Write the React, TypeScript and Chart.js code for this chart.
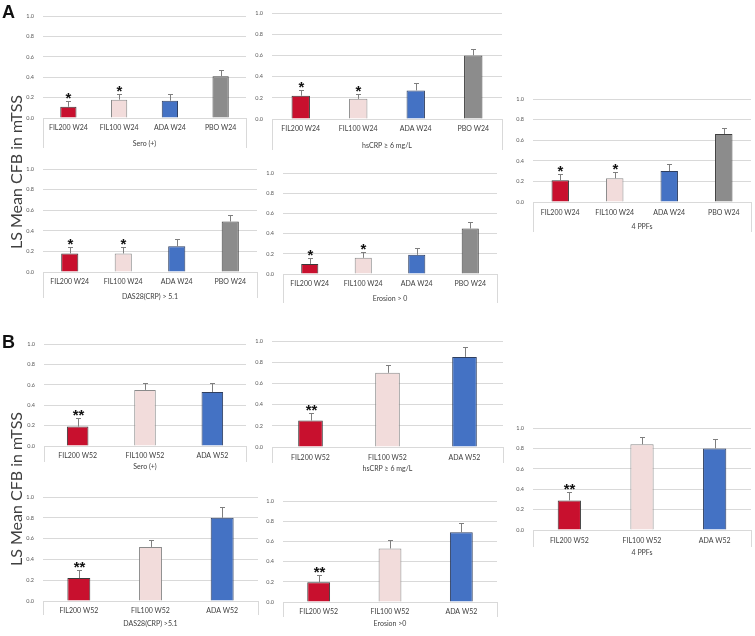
import React, { useEffect, useRef } from 'react';
import { Chart, registerables } from 'chart.js';
Chart.register(...registerables);

// ---------- DATA ----------
const groupsW24 = ['FIL200 W24', 'FIL100 W24', 'ADA W24', 'PBO W24'];
const groupsW52 = ['FIL200 W52', 'FIL100 W52', 'ADA W52'];
const yTickValues = [0, 0.2, 0.4, 0.6, 0.8, 1.0];

// Panel A (week 24): LS mean and upper error-bar end
const aSero = [0.11, 0.18, 0.17, 0.41];
const aSeroErr = [0.17, 0.24, 0.24, 0.47];
const aHsCRP = [0.22, 0.19, 0.27, 0.60];
const aHsCRPErr = [0.27, 0.24, 0.34, 0.66];
const aPPF = [0.21, 0.23, 0.30, 0.66];
const aPPFErr = [0.27, 0.29, 0.37, 0.72];
const aDAS = [0.18, 0.18, 0.25, 0.49];
const aDASErr = [0.24, 0.24, 0.32, 0.55];
const aEro = [0.10, 0.16, 0.19, 0.45];
const aEroErr = [0.16, 0.22, 0.26, 0.51];
const sigW24 = ['*', '*', '', ''];

// Panel B (week 52)
const bSero = [0.19, 0.55, 0.53];
const bSeroErr = [0.27, 0.62, 0.62];
const bHsCRP = [0.25, 0.70, 0.85];
const bHsCRPErr = [0.32, 0.77, 0.94];
const bPPF = [0.29, 0.84, 0.80];
const bPPFErr = [0.37, 0.91, 0.89];
const bDAS = [0.22, 0.52, 0.80];
const bDASErr = [0.30, 0.59, 0.90];
const bEro = [0.195, 0.53, 0.69];
const bEroErr = [0.27, 0.61, 0.78];
const sigW52 = ['**', '', ''];

const titlesA = ['Sero (+)', 'hsCRP \u2265 6 mg/L', '4 PPFs', 'DAS28(CRP) > 5.1', 'Erosion > 0'];
const titlesB = ['Sero (+)', 'hsCRP \u2265 6 mg/L', '4 PPFs', 'DAS28(CRP) >5.1', 'Erosion >0'];

// ---------- STYLE / LAYOUT ----------
const barColors = ['#C8102E', '#F2DCDB', '#4472C4', '#8C8C8C'];
const barBorders = ['#3a3a3a', '#8a8a8a', '#2f3f60', '#404040'];
const W = 755;
const H = 636;

type Box = { left: number; right: number; top: number; bottom: number; labelY: number; titleY: number; div: number };
type Panel = { labels: string[]; values: number[]; err: number[]; sig: string[]; title: string; box: Box };

const panels: Panel[] = [
  { labels: groupsW24, values: aSero, err: aSeroErr, sig: sigW24, title: titlesA[0], box: { left: 43, right: 246, top: 16, bottom: 118, labelY: 128, titleY: 144, div: 30 } },
  { labels: groupsW24, values: aHsCRP, err: aHsCRPErr, sig: sigW24, title: titlesA[1], box: { left: 272, right: 502, top: 13, bottom: 119, labelY: 129, titleY: 146, div: 31 } },
  { labels: groupsW24, values: aPPF, err: aPPFErr, sig: sigW24, title: titlesA[2], box: { left: 533, right: 751, top: 99, bottom: 202, labelY: 213, titleY: 227, div: 30 } },
  { labels: groupsW24, values: aDAS, err: aDASErr, sig: sigW24, title: titlesA[3], box: { left: 43, right: 257, top: 169, bottom: 272, labelY: 282, titleY: 297, div: 26 } },
  { labels: groupsW24, values: aEro, err: aEroErr, sig: sigW24, title: titlesA[4], box: { left: 283, right: 497, top: 173, bottom: 274, labelY: 284, titleY: 299, div: 29 } },
  { labels: groupsW52, values: bSero, err: bSeroErr, sig: sigW52, title: titlesB[0], box: { left: 44, right: 246, top: 344, bottom: 446, labelY: 456, titleY: 467, div: 16 } },
  { labels: groupsW52, values: bHsCRP, err: bHsCRPErr, sig: sigW52, title: titlesB[1], box: { left: 272, right: 503, top: 341, bottom: 447, labelY: 458, titleY: 469, div: 16 } },
  { labels: groupsW52, values: bPPF, err: bPPFErr, sig: sigW52, title: titlesB[2], box: { left: 533, right: 751, top: 428, bottom: 530, labelY: 541, titleY: 553, div: 17 } },
  { labels: groupsW52, values: bDAS, err: bDASErr, sig: sigW52, title: titlesB[3], box: { left: 43, right: 258, top: 497, bottom: 601, labelY: 611, titleY: 624, div: 14 } },
  { labels: groupsW52, values: bEro, err: bEroErr, sig: sigW52, title: titlesB[4], box: { left: 283, right: 497, top: 501, bottom: 602, labelY: 612, titleY: 624, div: 15 } },
];

const overlayPlugin = {
  id: 'overlay',
  afterDatasetsDraw(chart: any, _args: any, opts: any) {
    const ctx = chart.ctx;
    const xs = chart.scales.x;
    const ys = chart.scales.y;
    const ca = chart.chartArea;
    const values: number[] = chart.data.datasets[0].data;
    ctx.save();
    // category group dividers
    ctx.strokeStyle = '#D9D9D9';
    ctx.lineWidth = 1;
    [ca.left, ca.right].forEach((px: number) => {
      const xx = Math.round(px) + 0.5;
      ctx.beginPath();
      ctx.moveTo(xx, ca.bottom);
      ctx.lineTo(xx, ca.bottom + opts.div);
      ctx.stroke();
    });
    // error bars
    ctx.strokeStyle = '#7f7f7f';
    values.forEach((v: number, i: number) => {
      const cx = Math.round(xs.getPixelForValue(i)) + 0.5;
      const y0 = ys.getPixelForValue(v);
      const y1 = Math.round(ys.getPixelForValue(opts.err[i])) + 0.5;
      ctx.beginPath();
      ctx.moveTo(cx, y0);
      ctx.lineTo(cx, y1);
      ctx.moveTo(cx - 2.5, y1);
      ctx.lineTo(cx + 2.5, y1);
      ctx.stroke();
      const s = opts.sig[i];
      if (s) {
        ctx.fillStyle = '#111';
        ctx.font = 'bold 15px "Liberation Sans", Arial, sans-serif';
        ctx.textAlign = 'center';
        ctx.textBaseline = 'alphabetic';
        ctx.fillText(s, cx, y1 + 1);
      }
    });
    ctx.restore();
  },
};

function makeConfig(p: Panel): any {
  const b = p.box;
  const yWidth = 30;
  const lh = 7 * 1.2;
  const xHeight = b.titleY - b.bottom + lh / 2;
  const n = p.labels.length;
  return {
    type: 'bar',
    data: {
      labels: p.labels,
      datasets: [
        {
          data: p.values,
          backgroundColor: barColors.slice(0, n),
          borderColor: barBorders.slice(0, n),
          borderWidth: 1,
          barPercentage: 0.32,
          categoryPercentage: 1,
        },
      ],
    },
    options: {
      responsive: false,
      animation: false,
      events: [],
      layout: {
        padding: { left: b.left - yWidth, top: b.top, right: W - b.right, bottom: H - b.bottom - xHeight },
      },
      plugins: {
        legend: { display: false },
        tooltip: { enabled: false },
        overlay: { err: p.err, sig: p.sig, div: b.div },
      },
      scales: {
        x: {
          grid: { display: false, drawTicks: false },
          border: { display: false },
          ticks: {
            font: { family: 'Lato', size: 7 },
            color: '#404040',
            padding: b.labelY - b.bottom - 4,
            maxRotation: 0,
            autoSkip: false,
          },
          title: { display: true, text: p.title, font: { family: 'Lato', size: 7 }, color: '#404040', padding: 0 },
          afterFit: (s: any) => {
            s.height = xHeight;
          },
        },
        y: {
          min: 0,
          max: 1,
          afterBuildTicks: (s: any) => {
            s.ticks = yTickValues.map((v) => ({ value: v }));
          },
          ticks: {
            callback: (v: any) => Number(v).toFixed(1),
            font: { family: 'Lato', size: 5.5 },
            color: '#595959',
            padding: 9,
          },
          grid: { color: '#D9D9D9', drawTicks: false, lineWidth: 1 },
          border: { display: false },
          afterFit: (s: any) => {
            s.width = yWidth;
          },
        },
      },
    },
    plugins: [overlayPlugin],
  };
}

function PanelChart({ p }: { p: Panel }) {
  const ref = useRef<HTMLCanvasElement | null>(null);
  useEffect(() => {
    if (!ref.current) return;
    const chart = new Chart(ref.current, makeConfig(p));
    return () => chart.destroy();
  }, [p]);
  return (
    <canvas
      ref={ref}
      width={W}
      height={H}
      style={{ position: 'absolute', left: 0, top: 0, width: W, height: H }}
    />
  );
}

const yTitleStyle: React.CSSProperties = {
  position: 'absolute',
  left: 15,
  transform: 'translate(-50%, -50%) rotate(-90deg)',
  whiteSpace: 'nowrap',
  font: '16px Lato, sans-serif',
  color: '#404040',
};

const letterStyle: React.CSSProperties = {
  position: 'absolute',
  left: 2,
  font: 'bold 18px "Liberation Sans", Arial, sans-serif',
  color: '#111',
  lineHeight: '18px',
};

export default function App() {
  return (
    <div style={{ position: 'absolute', left: 0, top: 0, width: W, height: H, background: '#fff', overflow: 'hidden' }}>
      {panels.map((p, i) => (
        <PanelChart key={i} p={p} />
      ))}
      <div style={{ ...letterStyle, top: 3 }}>A</div>
      <div style={{ ...letterStyle, top: 333 }}>B</div>
      <div style={{ ...yTitleStyle, top: 172 }}>LS Mean CFB in mTSS</div>
      <div style={{ ...yTitleStyle, top: 489 }}>LS Mean CFB in mTSS</div>
    </div>
  );
}
